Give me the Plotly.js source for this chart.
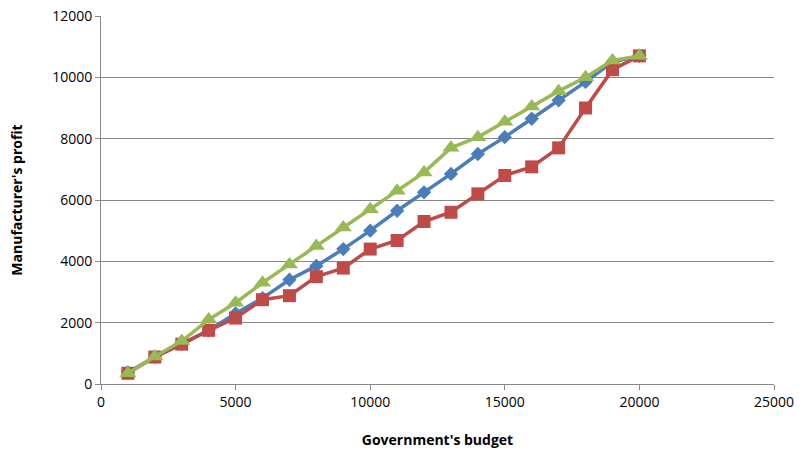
<!DOCTYPE html>
<html>
<head>
<meta charset="utf-8">
<script src="https://cdn.plot.ly/plotly-3.0.1.min.js"></script>
<style>html,body{margin:0;padding:0;background:#fff;}#chart{width:801px;height:453px;}</style>
</head>
<body>
<div id="chart"></div>
<script>
const budget = [1000,2000,3000,4000,5000,6000,7000,8000,9000,10000,11000,12000,13000,14000,15000,16000,17000,18000,19000,20000];
const blueProfit = [380,880,1300,1750,2300,2800,3400,3850,4400,5000,5650,6250,6850,7500,8050,8650,9250,9850,10500,10700];
const redProfit = [350,880,1300,1750,2150,2750,2880,3500,3780,4400,4680,5300,5600,6200,6800,7080,7700,9000,10250,10700];
const greenProfit = [350,900,1400,2100,2650,3300,3900,4500,5100,5700,6300,6900,7700,8050,8550,9050,9550,10000,10550,10700];
const xTicks = [0,5000,10000,15000,20000,25000];
const yTicks = [0,2000,4000,6000,8000,10000,12000];

const font = "'Open Sans', 'Liberation Sans', sans-serif";
const traces = [
  {x: budget, y: blueProfit, mode: 'lines+markers', name: 'Series1',
   line: {color: '#4a7ebb', width: 3.5}, marker: {symbol: 'diamond', size: 11, color: '#4a7ebb'}},
  {x: budget, y: redProfit, mode: 'lines+markers', name: 'Series2',
   line: {color: '#be4b48', width: 3.5}, marker: {symbol: 'square', size: 13, color: '#be4b48'}},
  {x: budget, y: greenProfit, mode: 'lines+markers', name: 'Series3',
   line: {color: '#98b954', width: 3.5}, marker: {symbol: 'triangle-up', size: 15, color: '#98b954'}}
];
const layout = {
  width: 801, height: 453,
  margin: {l: 101, r: 27, t: 16, b: 69},
  paper_bgcolor: '#fff', plot_bgcolor: '#fff',
  showlegend: false,
  font: {family: font, size: 14, color: '#000'},
  xaxis: {
    range: [0, 25000], tickvals: xTicks, ticktext: xTicks.map(String),
    showgrid: false, zeroline: false, showline: true, linecolor: '#878787', linewidth: 1,
    ticks: 'outside', ticklen: 5, tickcolor: '#878787',
    tickfont: {family: font, size: 14},
    title: {text: "<b>Government's budget</b>", font: {family: font, size: 14}, standoff: 25}
  },
  yaxis: {
    range: [0, 12000], tickvals: yTicks, ticktext: yTicks.map(String),
    showgrid: true, gridcolor: '#878787', gridwidth: 1, zeroline: false,
    showline: true, linecolor: '#878787', linewidth: 1,
    ticks: 'outside', ticklen: 5, tickcolor: '#878787',
    tickfont: {family: font, size: 14},
    title: {text: "<b>Manufacturer's profit</b>", font: {family: font, size: 14}, standoff: 26}
  }
};
Plotly.newPlot('chart', traces, layout, {displayModeBar: false, staticPlot: true});
</script>
</body>
</html>
